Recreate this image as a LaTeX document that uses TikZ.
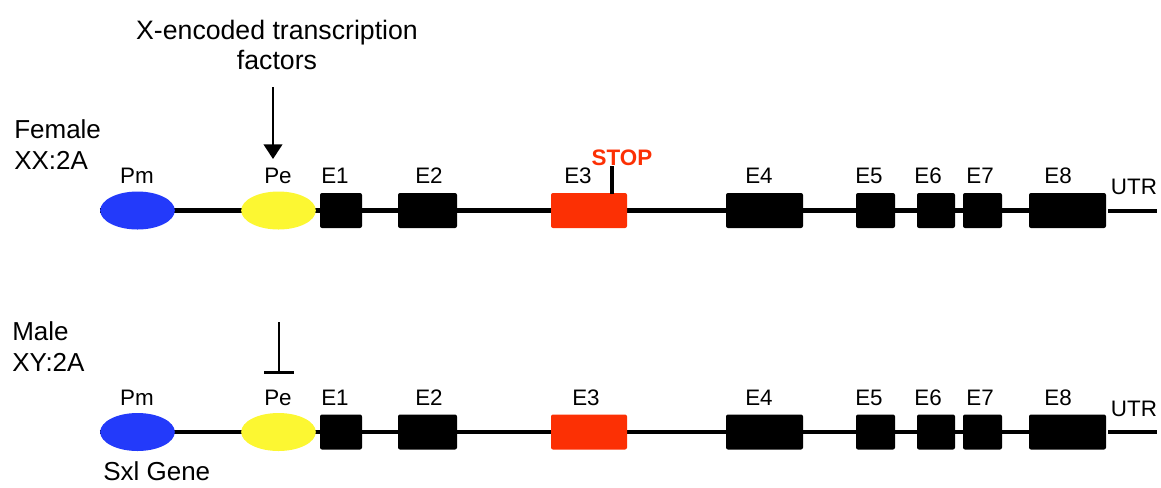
\documentclass[tikz,border=0pt]{standalone}
\usepackage{fontspec}
\setmainfont{Liberation Sans}
\usetikzlibrary{arrows.meta,backgrounds,shapes.geometric}
\definecolor{pmblue}{RGB}{35,58,250}
\definecolor{peyellow}{RGB}{252,247,50}
\definecolor{exred}{RGB}{252,48,4}
\begin{document}
\begin{tikzpicture}[x=0.75pt,y=-0.75pt,
  exon/.style={draw=none,fill=black,rounded corners=1.5pt,minimum height=26.25pt,inner sep=0pt},
  redexon/.style={exon,fill=exred},
  prom/.style={ellipse,draw=none,minimum width=56pt,minimum height=28.5pt,inner sep=0pt},
  lbl/.style={font=\fontsize{16.8}{19}\selectfont,inner sep=0pt},
  big/.style={font=\fontsize{19.5}{23.25}\selectfont,inner sep=0pt,align=left},
  backbone/.style={line width=3.3pt},
  utrline/.style={line width=3.3pt}
]
\useasboundingbox (0,0) rectangle (1161,487);

% ---------- Female row ----------
\node[prom,fill=pmblue] (pmT) at (137.5,210.5) {};
\node[prom,fill=peyellow] (peT) at (278.5,210.5) {};
\node[exon,minimum width=31.5pt] (e1T) at (341,210.5) {};
\node[exon,minimum width=44.25pt] (e2T) at (427.5,210.5) {};
\node[redexon,minimum width=57pt] (e3T) at (589,210.5) {};
\node[exon,minimum width=57.75pt] (e4T) at (764.5,210.5) {};
\node[exon,minimum width=29.25pt] (e5T) at (875.5,210.5) {};
\node[exon,minimum width=28.5pt] (e6T) at (936,210.5) {};
\node[exon,minimum width=29.25pt] (e7T) at (982.5,210.5) {};
\node[exon,minimum width=57.75pt] (e8T) at (1067.5,210.5) {};
\begin{scope}[on background layer]
  \draw[backbone] (pmT.west) -- (e8T.center);
\end{scope}
\coordinate (utrAT) at (1108,211);
\coordinate (utrBT) at (1157,211);
\draw[utrline] (utrAT) -- (utrBT);

\node[lbl] (pmLT) at (137,176) {Pm};
\node[lbl] (peLT) at (278,176) {Pe};
\node[lbl] (e1LT) at (335,176) {E1};
\node[lbl] (e2LT) at (429,176) {E2};
\node[lbl] (e3LT) at (578,176) {E3};
\node[lbl] (e4LT) at (759,176) {E4};
\node[lbl] (e5LT) at (869,176) {E5};
\node[lbl] (e6LT) at (928,176) {E6};
\node[lbl] (e7LT) at (980,176) {E7};
\node[lbl] (e8LT) at (1058,176) {E8};
\node[lbl] (utrLT) at (1134,187) {UTR};

% stop codon
\coordinate (stopBase) at (612,193.5);
\node[font=\bfseries\fontsize{16.8}{18}\selectfont,text=exred,inner sep=0pt] (stop) at (622,158) {STOP};
\draw[line width=3pt] (stopBase) -- (stopBase |- 0,166);

% title and arrow
\node[font=\fontsize{20}{22.5}\selectfont,align=center,inner sep=0pt] (xtf) at (277,45) {X-encoded transcription\\factors};
\coordinate (arrTop) at (273,87);
\coordinate (arrTip) at (273,159);
\draw[line width=1.5pt,-{Triangle[width=14pt,length=11pt]}] (arrTop) -- (arrTip);

\node[big,anchor=west] (female) at (14,145) {Female\\XX:2A};

% ---------- Male row ----------
\node[prom,fill=pmblue] (pmB) at (137.5,432) {};
\node[prom,fill=peyellow] (peB) at (278.5,432) {};
\node[exon,minimum width=31.5pt] (e1B) at (341,432) {};
\node[exon,minimum width=44.25pt] (e2B) at (427.5,432) {};
\node[redexon,minimum width=57pt] (e3B) at (589,432) {};
\node[exon,minimum width=57.75pt] (e4B) at (764.5,432) {};
\node[exon,minimum width=29.25pt] (e5B) at (875.5,432) {};
\node[exon,minimum width=28.5pt] (e6B) at (936,432) {};
\node[exon,minimum width=29.25pt] (e7B) at (982.5,432) {};
\node[exon,minimum width=57.75pt] (e8B) at (1067.5,432) {};
\begin{scope}[on background layer]
  \draw[backbone] (pmB.west) -- (e8B.center);
\end{scope}
\coordinate (utrAB) at (1108,432);
\coordinate (utrBB) at (1157,432);
\draw[utrline] (utrAB) -- (utrBB);

\node[lbl] (pmLB) at (137,398) {Pm};
\node[lbl] (peLB) at (278,398) {Pe};
\node[lbl] (e1LB) at (335,398) {E1};
\node[lbl] (e2LB) at (429,398) {E2};
\node[lbl] (e3LB) at (586,398) {E3};
\node[lbl] (e4LB) at (759,398) {E4};
\node[lbl] (e5LB) at (869,398) {E5};
\node[lbl] (e6LB) at (928,398) {E6};
\node[lbl] (e7LB) at (980,398) {E7};
\node[lbl] (e8LB) at (1058,398) {E8};
\node[lbl] (utrLB) at (1134,409) {UTR};

% repression
\coordinate (repTop) at (279,322);
\coordinate (repBot) at (279,374);
\draw[line width=2.2pt,-{Bar[width=22pt,line width=2.2pt]}] (repTop) -- (repBot);

\node[big,anchor=west] (male) at (12,347) {Male\\XY:2A};
\node[big,anchor=west] (sxl) at (103,471) {Sxl Gene};
\end{tikzpicture}
\end{document}
